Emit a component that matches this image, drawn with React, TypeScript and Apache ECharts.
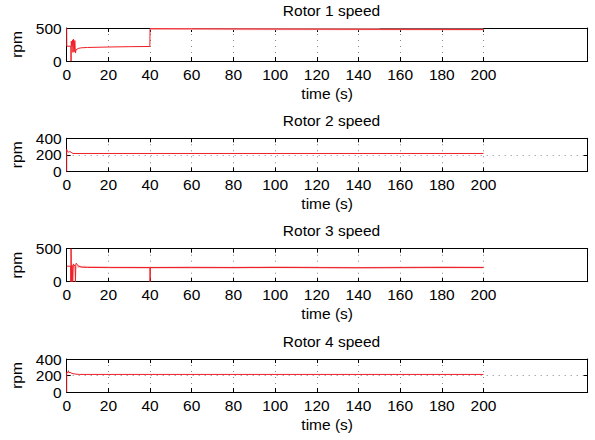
import React, { useEffect, useRef } from 'react';
import * as echarts from 'echarts';

const xTicks = [0, 20, 40, 60, 80, 100, 120, 140, 160, 180, 200];
const titles = ['Rotor 1 speed', 'Rotor 2 speed', 'Rotor 3 speed', 'Rotor 4 speed'];
const yMaxes = [500, 400, 500, 400];
const yIntervals = [500, 200, 500, 200];

const r1Time = [0, 0.05, 2.0, 2.1, 2.2, 2.5, 2.8, 3.0, 3.3, 3.6, 3.9, 4.2, 4.5, 5.5, 7, 10, 20, 30, 39.9, 40, 60, 100, 150, 200];
const r1Speed = [500, 224, 224, 0, 300, 224, 320, 130, 330, 140, 310, 120, 170, 190, 200, 205, 212, 217, 220, 490, 488, 484, 480, 478];
const r1bTime = [40, 60, 100, 150, 200];
const r1bSpeed = [486, 484, 482, 480, 479];

const r2Time = [0, 0.01, 0.3, 1.0, 1.5, 2.5, 3, 200];
const r2Speed = [0, 265, 240, 232, 240, 225, 216, 216];

const r3Time = [0, 1.9, 2.0, 2.1, 2.3, 2.6, 2.9, 3.2, 3.5, 4.0, 4.2, 4.4, 4.6, 5.5, 7, 10, 20, 39.9, 40, 40.2, 60, 100, 140, 200];
const r3Speed = [235, 235, 0, 500, 0, 250, 0, 270, 250, 240, 0, 270, 280, 240, 222, 216, 214, 215, 0, 215, 214, 215, 213, 215];
const r3bTime = [5, 20, 40, 60, 80, 100, 120, 140, 160, 180, 200];
const r3bSpeed = [226, 219, 213, 220, 213, 221, 214, 209, 216, 222, 215];

const r4Time = [0, 0.01, 0.5, 0.8, 1.1, 1.6, 2.5, 4, 6, 200];
const r4Speed = [0, 240, 235, 258, 232, 240, 225, 218, 213, 213];

const zip = (t: number[], v: number[]) => t.map((x, i) => [x, v[i]]);

const mainSeries = [zip(r1Time, r1Speed), zip(r2Time, r2Speed), zip(r3Time, r3Speed), zip(r4Time, r4Speed)];
const faintSeries: (number[][] | null)[] = [zip(r1bTime, r1bSpeed), null, zip(r3bTime, r3bSpeed), null];

const FONT = 'Liberation Sans, Arial, Helvetica, sans-serif';
const FS = 15.5;

export default function App() {
  const ref = useRef<HTMLDivElement>(null);
  useEffect(() => {
    if (!ref.current) return;
    const chart = echarts.init(ref.current, null, { renderer: 'svg' });
    const left = 66.7;
    const right = 7.3;
    const tops = [28, 138.3, 248.7, 359];
    const h = 33;
    const grid: any[] = [];
    const xAxis: any[] = [];
    const yAxis: any[] = [];
    const series: any[] = [];
    const title: any[] = [];
    const axisLine = { show: true, onZero: false, lineStyle: { color: '#000', width: 1 } };
    const tickStyle = { show: true, inside: true, length: 4, lineStyle: { color: '#000', width: 1 } };
    const gridLine = { show: true, lineStyle: { color: '#888', width: 1, type: [1, 5] } };
    for (let i = 0; i < 4; i++) {
      grid.push({ left, right, top: tops[i], height: h, containLabel: false });
      title.push({
        text: titles[i],
        left: 326.5,
        top: tops[i] - 31,
        textAlign: 'center',
        textStyle: { fontFamily: FONT, fontSize: FS, fontWeight: 'normal', color: '#000' },
      });
      xAxis.push({
        type: 'value', gridIndex: i, position: 'bottom', min: 0, max: 250, interval: 20,
        name: 'time (s)', nameLocation: 'middle', nameGap: 24,
        nameTextStyle: { fontFamily: FONT, fontSize: FS, color: '#000' },
        axisLine,
        axisTick: { ...tickStyle, customValues: xTicks },
        axisLabel: { customValues: xTicks, margin: 5, fontFamily: FONT, fontSize: FS, color: '#000' },
        splitLine: gridLine,
      });
      xAxis.push({
        type: 'value', gridIndex: i, position: 'top', min: 0, max: 250, interval: 20,
        axisLine,
        axisTick: { ...tickStyle, customValues: xTicks },
        axisLabel: { show: false },
        splitLine: { show: false },
      });
      yAxis.push({
        type: 'value', gridIndex: i, position: 'left', min: 0, max: yMaxes[i], interval: yIntervals[i],
        name: 'rpm', nameLocation: 'middle', nameGap: 35,
        nameTextStyle: { fontFamily: FONT, fontSize: FS, color: '#000' },
        axisLine, axisTick: tickStyle,
        axisLabel: { margin: 5, fontFamily: FONT, fontSize: FS, color: '#000' },
        splitLine: gridLine,
      });
      yAxis.push({
        type: 'value', gridIndex: i, position: 'right', min: 0, max: yMaxes[i], interval: yIntervals[i],
        axisLine, axisTick: tickStyle, axisLabel: { show: false }, splitLine: { show: false },
      });
      const fs = faintSeries[i];
      if (fs) {
        series.push({
          type: 'line', xAxisIndex: 2 * i, yAxisIndex: 2 * i, data: fs, showSymbol: false,
          lineStyle: { color: '#f8c2c3', width: 2 }, silent: true,
        });
      }
      series.push({
        type: 'line', xAxisIndex: 2 * i, yAxisIndex: 2 * i, data: mainSeries[i], showSymbol: false,
        lineStyle: { color: '#ee1f25', width: 1 }, silent: true,
      });
    }
    chart.setOption({
      animation: false,
      backgroundColor: '#fff',
      title, grid, xAxis, yAxis, series,
    });
    return () => chart.dispose();
  }, []);
  return (
    <div style={{ position: 'fixed', left: 0, top: 0, width: 595, height: 440, background: '#fff' }}>
      <div ref={ref} style={{ width: 595, height: 440 }} />
    </div>
  );
}
